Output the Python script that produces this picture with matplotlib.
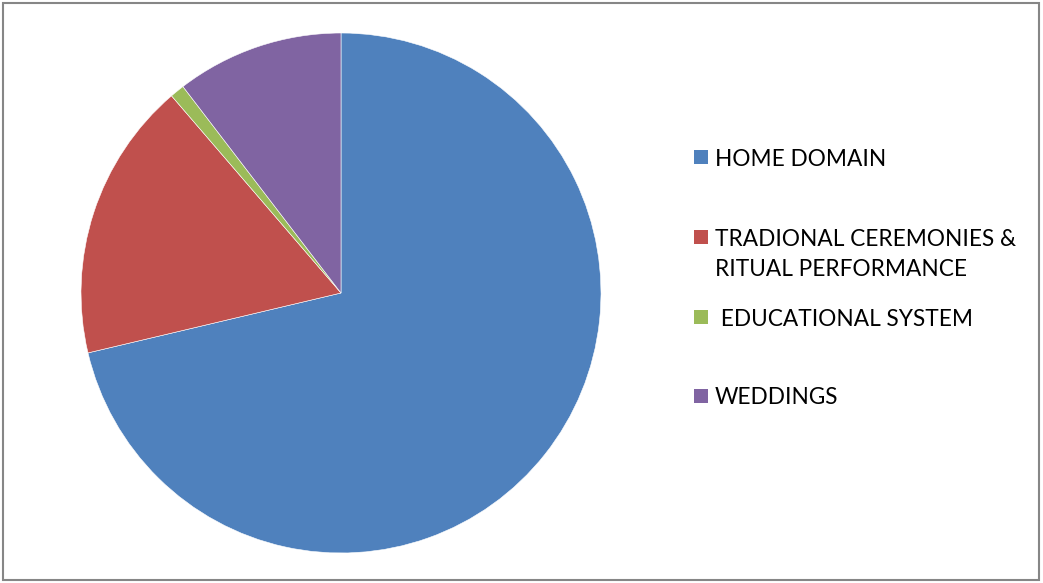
import matplotlib
matplotlib.use("Agg")
import matplotlib.pyplot as plt
from matplotlib.patches import Rectangle

# Share of language use by domain (%)
labels = ["HOME DOMAIN", "TRADIONAL CEREMONIES &\nRITUAL PERFORMANCE",
          " EDUCATIONAL SYSTEM", "WEDDINGS"]
values = [71.3, 17.4, 0.9, 10.4]
colors = ["#4F81BD", "#C0504D", "#9BBB59", "#8064A2"]

W, H = 1043, 583
fig = plt.figure(figsize=(W / 100, H / 100), dpi=100)
plt.rcParams["font.family"] = ["Lato", "DejaVu Sans"]

# chart frame
fig.patches.append(Rectangle((3 / W, 3 / H), (1039 - 3) / W, (580 - 3) / H,
                             transform=fig.transFigure, fill=False,
                             edgecolor="#868686", linewidth=1.5))

cx, cy, r = 341, 293, 260
ax = fig.add_axes([(cx - r) / W, (H - cy - r) / H, 2 * r / W, 2 * r / H])
ax.pie(values, colors=colors, startangle=90, counterclock=False,
       radius=1, wedgeprops=dict(edgecolor="white", linewidth=0.4))
ax.set_xlim(-1, 1)
ax.set_ylim(-1, 1)
ax.set_aspect("auto")
ax.axis("off")

# legend: colour square plus label, one entry per slice
fs = 16.3
ys = [157, 237, 317, 396]
for lab, col, y in zip(labels, colors, ys):
    fig.patches.append(Rectangle((694 / W, (H - y - 7) / H), 14 / W, 14 / H,
                                 transform=fig.transFigure, facecolor=col,
                                 edgecolor="none"))
    for k, ln in enumerate(lab.split("\n")):
        fig.text(715 / W, (H - y - 30 * k) / H, ln, fontsize=fs,
                 va="center_baseline", ha="left", color="black")

fig.savefig("out.png", dpi=100)
